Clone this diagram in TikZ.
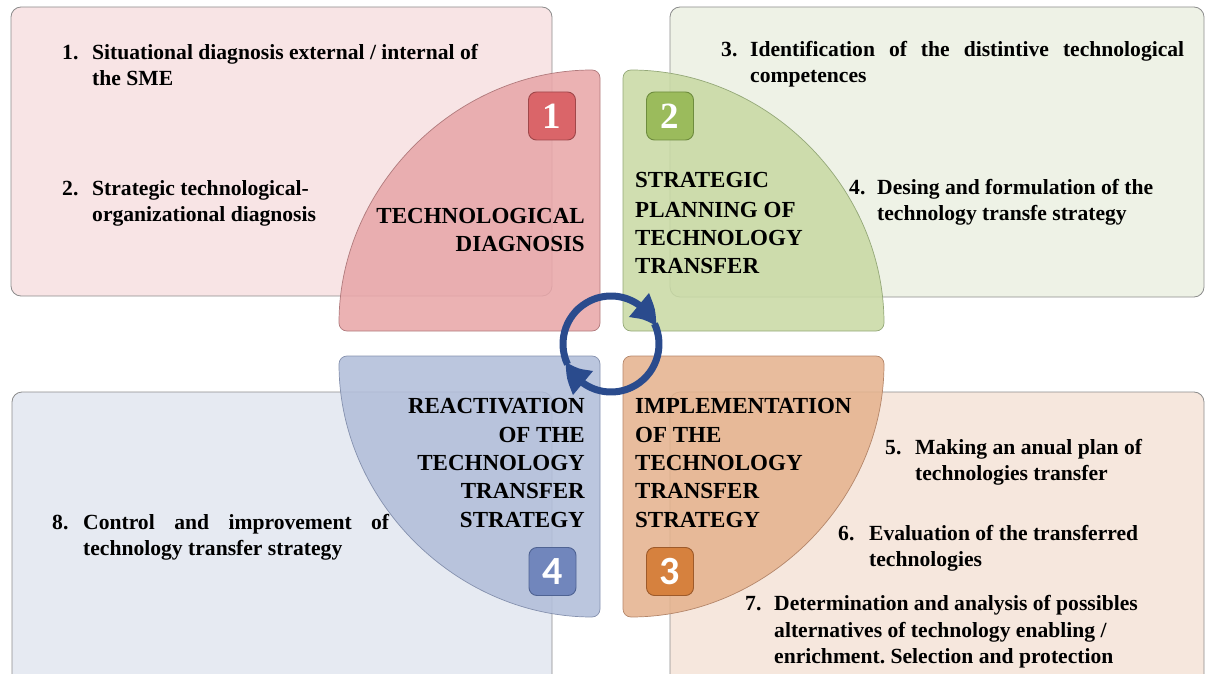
\documentclass[tikz,border=0pt]{standalone}
\usepackage{fontspec}
\setmainfont{Liberation Serif}
\newfontfamily\digitsans{Carlito}
\usetikzlibrary{arrows.meta,bending}
\frenchspacing

% panel and sector palette
\definecolor{pinkpanel}{HTML}{F8E4E5}
\definecolor{greenpanel}{HTML}{EEF2E6}
\definecolor{bluepanel}{HTML}{E6EAF2}
\definecolor{orangepanel}{HTML}{F6E7DD}
\definecolor{panelline}{HTML}{8C8C8C}
\definecolor{redsec}{HTML}{E8A7A9}
\definecolor{greensec}{HTML}{C9DAA5}
\definecolor{bluesec}{HTML}{B2BEDA}
\definecolor{orangesec}{HTML}{E5B38F}
\definecolor{redsecline}{HTML}{B07A7C}
\definecolor{greensecline}{HTML}{94A878}
\definecolor{bluesecline}{HTML}{8591AE}
\definecolor{orangesecline}{HTML}{B4866A}
\definecolor{redbox}{HTML}{DA6569}
\definecolor{redboxline}{HTML}{A0474A}
\definecolor{greenbox}{HTML}{9BBB5C}
\definecolor{greenboxline}{HTML}{6E8C3E}
\definecolor{bluebox}{HTML}{7186BC}
\definecolor{blueboxline}{HTML}{4F6393}
\definecolor{orangebox}{HTML}{D6813E}
\definecolor{orangeboxline}{HTML}{9E5A2A}
\definecolor{cyclecol}{HTML}{2A4B8D}

\begin{document}
\begin{tikzpicture}[x=1pt,y=-1pt,
  panel/.style={draw=panelline, line width=0.8pt, rounded corners=10pt},
  sector/.style={line width=0.7pt, rounded corners=8pt, fill opacity=0.88},
  badge/.style={minimum width=47pt, minimum height=48pt, rounded corners=8pt,
                line width=0.9pt, inner sep=0pt, text=white},
  serifdigit/.style={font=\fontsize{37}{37}\selectfont\bfseries},
  sansdigit/.style={font=\digitsans\bfseries\fontsize{40}{40}\selectfont},
  item/.style={font=\fontsize{21.6}{26}\selectfont\bfseries, inner sep=0pt, anchor=base west},
  head/.style={font=\fontsize{23}{28}\selectfont\bfseries, inner sep=0pt},
  cycle arrow/.style={draw=cyclecol, line width=7pt,
                      -{Triangle[length=28pt,width=29pt,bend]}}]

\useasboundingbox (0,0) rectangle (1208,674);
\clip (0,0) rectangle (1208,674);

% background panels
\path[panel, fill=pinkpanel]   (11,7)    rectangle (552,296);
\path[panel, fill=greenpanel]  (670,7)   rectangle (1204,297);
\path[panel, fill=bluepanel]   (12,392)  rectangle (552,700);
\path[panel, fill=orangepanel] (670,392) rectangle (1204,700);

% four quarter-circle sectors
\path[sector, fill=redsec, draw=redsecline]
  (600,331) -- (339,331) arc[start angle=180, end angle=270, radius=261] -- cycle;
\path[sector, fill=greensec, draw=greensecline]
  (623,331) -- (884,331) arc[start angle=0, end angle=-90, radius=261] -- cycle;
\path[sector, fill=bluesec, draw=bluesecline]
  (600,356) -- (339,356) arc[start angle=180, end angle=90, radius=261] -- cycle;
\path[sector, fill=orangesec, draw=orangesecline]
  (623,356) -- (884,356) arc[start angle=0, end angle=90, radius=261] -- cycle;

% numbered badges
\node[badge, serifdigit, fill=redbox, draw=redboxline]       (b1) at (552,116) {1};
\node[badge, serifdigit, fill=greenbox, draw=greenboxline]   (b2) at (670,116) {2};
\node[badge, sansdigit, fill=orangebox, draw=orangeboxline]  (b3) at (670,571.5) {3};
\node[badge, sansdigit, fill=bluebox, draw=blueboxline]      (b4) at (552.5,571.5) {4};

% central cycle
\coordinate (hub) at (611,344);
\draw[cycle arrow] (hub) ++(-205:48) arc[start angle=-205, end angle=-21, radius=48];
\draw[cycle arrow] (hub) ++(-25:48)  arc[start angle=-25,  end angle=159, radius=48];

% phase titles
\node[head, anchor=base east] (h1a) at (585,223) {TECHNOLOGICAL};
\node[head, anchor=base east] (h1b) at (585,251) {DIAGNOSIS};

\node[head, anchor=base west] (h2a) at (635,188) {STRATEGIC};
\node[head, anchor=base west] (h2b) at (635,217) {PLANNING OF};
\node[head, anchor=base west] (h2c) at (635,245) {TECHNOLOGY};
\node[head, anchor=base west] (h2d) at (635,273) {TRANSFER};

\node[head, anchor=base west] (h3a) at (635,413) {IMPLEMENTATION};
\node[head, anchor=base west] (h3b) at (635,442) {OF THE};
\node[head, anchor=base west] (h3c) at (635,470) {TECHNOLOGY};
\node[head, anchor=base west] (h3d) at (635,498) {TRANSFER};
\node[head, anchor=base west] (h3e) at (635,527) {STRATEGY};

\node[head, anchor=base east] (h4a) at (585,413) {REACTIVATION};
\node[head, anchor=base east] (h4b) at (585,442) {OF THE};
\node[head, anchor=base east] (h4c) at (585,470) {TECHNOLOGY};
\node[head, anchor=base east] (h4d) at (585,498) {TRANSFER};
\node[head, anchor=base east] (h4e) at (585,527) {STRATEGY};

% numbered steps
\node[item] (n1)  at (62,60)  {1.};
\node[item] (t1a) at (92,60)  {Situational diagnosis external / internal of};
\node[item] (t1b) at (92,86)  {the SME};

\node[item] (n2)  at (62,195) {2.};
\node[item] (t2a) at (92,195) {Strategic technological-};
\node[item] (t2b) at (92,221) {organizational diagnosis};

\node[item] (n3)  at (721,57) {3.};
\node[item] (t3a) at (750,57) {\makebox[434pt][s]{Identification of the distintive technological}};
\node[item] (t3b) at (750,83) {competences};

\node[item] (n4)  at (849,194) {4.};
\node[item] (t4a) at (877,194) {Desing and formulation of the};
\node[item] (t4b) at (877,220) {technology transfe strategy};

\node[item] (n5)  at (885,454) {5.};
\node[item] (t5a) at (915,454) {Making an anual plan of};
\node[item] (t5b) at (915,480) {technologies transfer};

\node[item] (n6)  at (838,540) {6.};
\node[item] (t6a) at (869,540) {Evaluation of the transferred};
\node[item] (t6b) at (869,566) {technologies};

\node[item] (n7)  at (745,610) {7.};
\node[item] (t7a) at (774,610) {Determination and analysis of possibles};
\node[item] (t7b) at (774,637) {alternatives of technology enabling /};
\node[item] (t7c) at (774,663) {enrichment. Selection and protection};

\node[item] (n8)  at (52,529) {8.};
\node[item] (t8a) at (83,529) {\makebox[306pt][s]{Control and improvement of}};
\node[item] (t8b) at (83,555) {technology transfer strategy};

\end{tikzpicture}
\end{document}
